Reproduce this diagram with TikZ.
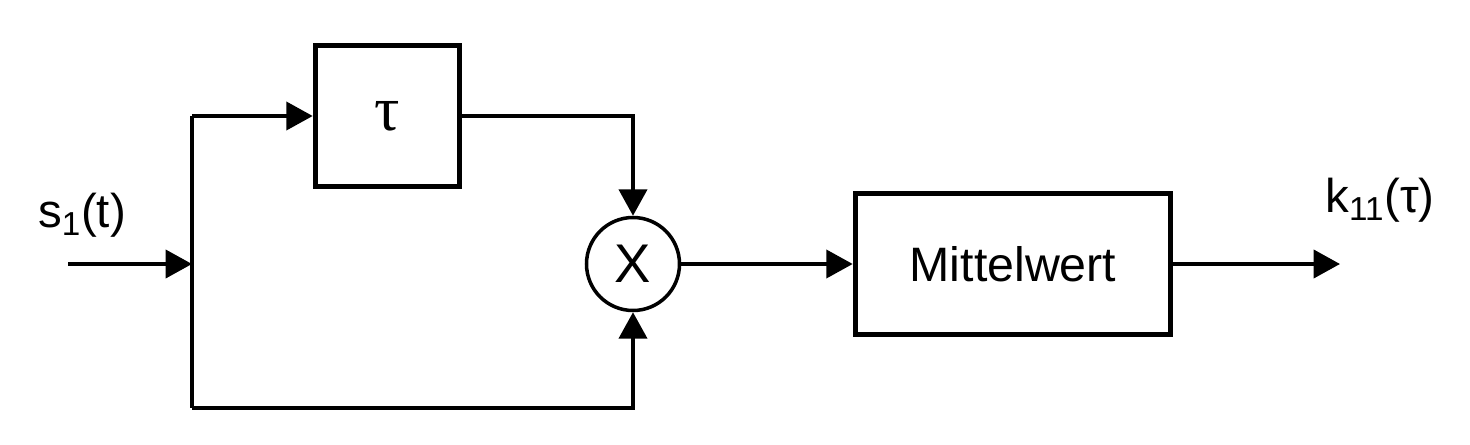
\documentclass[tikz,border=0pt]{standalone}
\usepackage{fontspec}
\setmainfont{Liberation Sans}
\newfontfamily\greekserif{Liberation Serif}
\usetikzlibrary{arrows.meta}

\begin{document}
\begin{tikzpicture}[
    blockbox/.style={draw,line width=3.2pt,inner sep=0pt},
    wire/.style={line width=2pt,line join=miter},
    sig/.style={wire,-{Triangle[length=15pt,width=16pt]}}]%
  \def\ym{3.6}   % main line
  \def\yt{6.56}  % delay path
  \def\yb{0.72}  % direct path
  \def\xs{3.84}  % branch point
  \useasboundingbox (0,0) rectangle (29.4,8.88);

  % blocks
  \node[blockbox,minimum width=2.88cm,minimum height=2.82cm] (delay)
    at (7.75,\yt) {\greekserif\fontsize{36}{42}\selectfont τ};
  \node[draw,circle,line width=2pt,minimum size=1.86cm,inner sep=0pt] (mult)
    at (12.66,\ym) {\fontsize{31}{37}\selectfont X};
  \node[blockbox,minimum width=6.3cm,minimum height=2.82cm] (mean)
    at (20.26,\ym) {\fontsize{27.5}{33}\selectfont Mittelwert};

  \coordinate (in) at (1.36,\ym);
  \coordinate (split) at (\xs,\ym);
  \coordinate (top) at (\xs,\yt);
  \coordinate (bot) at (\xs,\yb);
  \coordinate (out) at (26.8,\ym);

  % connections
  \draw[sig] (in) -- (split);
  \draw[wire] (top) -- (bot);
  \draw[sig] (top) -- (delay.west);
  \draw[sig] (delay.east) -| (mult.north);
  \draw[sig] (bot) -| (mult.south);
  \draw[sig] (mult.east) -- (mean.west);
  \draw[sig] (mean.east) -- (out);

  % labels
  \node[font=\fontsize{27}{32}\selectfont] (inlabel) at (1.64,4.58) {s\textsubscript{1}(t)};
  \node[font=\fontsize{27}{32}\selectfont] (outlabel) at (27.6,4.88) {k\textsubscript{11}(τ)};
\end{tikzpicture}
\end{document}
